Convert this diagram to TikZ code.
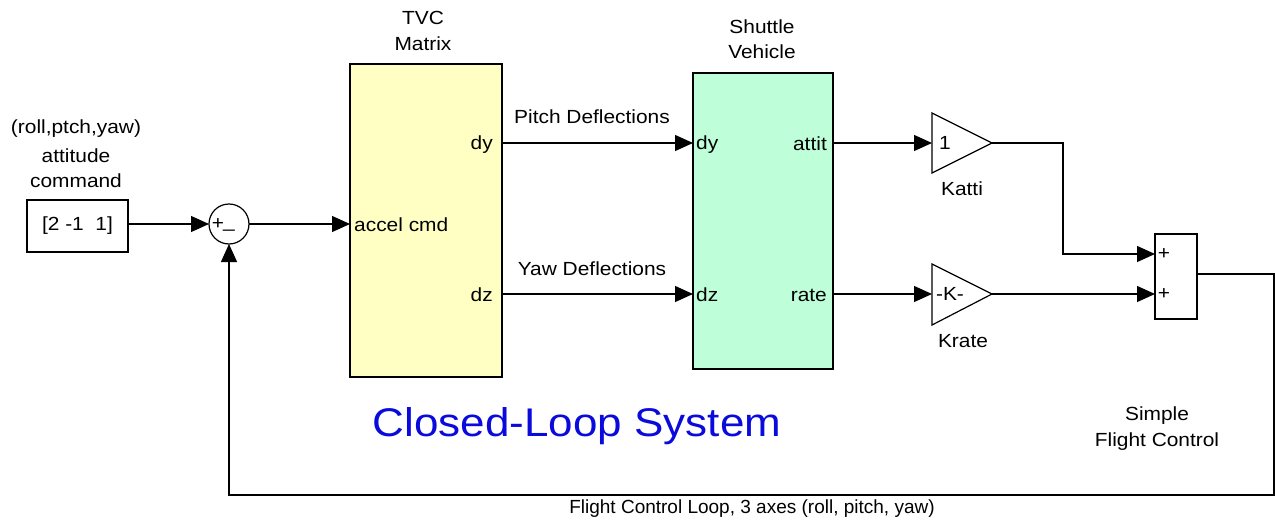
\documentclass[tikz,border=0pt]{standalone}
\usepackage{fontspec}
\setmainfont[FakeStretch=1.1]{Liberation Sans}
\newfontfamily\plainfont{Liberation Sans}
\usetikzlibrary{arrows.meta}
\definecolor{tvcfill}{RGB}{255,255,196}
\definecolor{shfill}{RGB}{190,255,218}
\definecolor{titleblue}{RGB}{10,10,220}
\begin{document}
\begin{tikzpicture}[x=1pt,y=-1pt,
  lbl/.style={font=\fontsize{19}{22}\selectfont, inner sep=0pt},
  blk/.style={draw, line width=1.2pt, inner sep=0pt, outer sep=0pt},
  sig/.style={line width=1.3pt, -{Triangle[length=18pt,width=16pt]}},
  wire/.style={line width=1.2pt}]
\useasboundingbox (0,0) rectangle (1275,524);
% blocks
\node[blk, minimum width=101pt, minimum height=52pt] (const) at (77.5,226) {};
\node[lbl] (constt) at (77.5,226) {[2 -1~~1]};
\node[lbl] (cmd1) at (76,129) {(roll,ptch,yaw)};
\node[lbl] (cmd2) at (76,156) {attitude};
\node[lbl] (cmd3) at (76,181) {command};

\node[blk, circle, minimum size=40pt] (sum) at (229,224) {};
\node[lbl] (sump) at (218,224) {+};
\node[lbl] (summ) at (229,229) {\_};

\node[blk, fill=tvcfill, minimum width=152pt, minimum height=313pt] (tvc) at (426,220.5) {};
\node[lbl] (tvct1) at (423,18) {TVC};
\node[lbl] (tvct2) at (423,44) {Matrix};
\node[lbl, anchor=west] (tvcin) at (354,225) {accel cmd};
\node[lbl, anchor=east] (tvcdy) at (493,145) {dy};
\node[lbl, anchor=east] (tvcdz) at (493,295) {dz};

\node[blk, fill=shfill, minimum width=140pt, minimum height=296pt] (sh) at (763,221) {};
\node[lbl] (sht1) at (762,27) {Shuttle};
\node[lbl] (sht2) at (762,52) {Vehicle};
\node[lbl, anchor=west] (shdy) at (696,145) {dy};
\node[lbl, anchor=west] (shdz) at (696,295) {dz};
\node[lbl, anchor=east] (shat) at (827,144) {attit};
\node[lbl, anchor=east] (shrt) at (827,295) {rate};

\node[lbl] (pitch) at (592,117) {Pitch Deflections};
\node[lbl] (yaw) at (592,269) {Yaw Deflections};

% gains
\draw[wire, fill=white] (932,113) -- (992,143) -- (932,173) -- cycle;
\draw[wire, fill=white] (932,264) -- (992,294) -- (932,325) -- cycle;
\coordinate (kaIn) at (932,143);
\coordinate (kaOut) at (992,143);
\coordinate (krIn) at (932,294);
\coordinate (krOut) at (992,294);
\node[lbl] (kav) at (945,143) {1};
\node[lbl] (krv) at (950,294) {-K-};
\node[lbl] (kal) at (962,189) {Katti};
\node[lbl] (krl) at (963,341) {Krate};

% sum block
\node[blk, minimum width=42pt, minimum height=85pt] (fc) at (1176,276.5) {};
\node[lbl] (fcp1) at (1164,254) {+};
\node[lbl] (fcp2) at (1164,294) {+};
\node[lbl] (fcl1) at (1157,416) {Simple};
\node[lbl] (fcl2) at (1157,442) {Flight Control};

\node[font=\fontsize{40}{46}\selectfont, text=titleblue, inner sep=0pt] (title) at (577,426) {Closed-Loop System};
\node[font=\plainfont\fontsize{19}{22}\selectfont, inner sep=0pt] (loopl) at (752,509) {Flight Control Loop, 3 axes (roll, pitch, yaw)};

% connectors
\draw[sig] (const.east |- 0,224) -- (sum.west);
\draw[sig] (sum.east) -- (tvc.west |- 0,224);
\draw[sig] (tvc.east |- 0,143) -- (sh.west |- 0,143);
\draw[sig] (tvc.east |- 0,294) -- (sh.west |- 0,294);
\draw[sig] (sh.east |- 0,143) -- (kaIn);
\draw[sig] (sh.east |- 0,294) -- (krIn);
\draw[sig] (kaOut) -- (1063,143) -- (1063,254) -- (fc.west |- 0,254);
\draw[sig] (krOut) -- (fc.west |- 0,294);
\draw[sig] (fc.east |- 0,274) -- (1274,274) -- (1274,495) -- (229,495) -- (sum.south);
\end{tikzpicture}
\end{document}
